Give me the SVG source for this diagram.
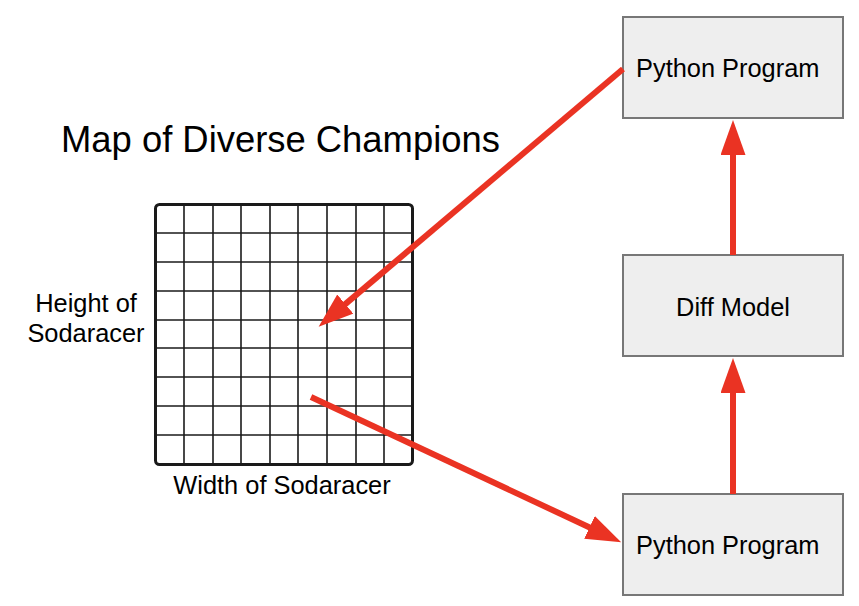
<svg xmlns="http://www.w3.org/2000/svg" width="859" height="606" viewBox="0 0 859 606">
<defs>
<style>
.box{fill:#eeeeee;stroke:#777777;stroke-width:2}
.t{font-family:"Liberation Sans",Arial,sans-serif;fill:#000;font-size:25.4px}
.conn{stroke:#ea3323;stroke-width:6;fill:none}
.grid line{stroke:#1a1a1a;stroke-width:1.6}
</style>
<marker id="ah" markerUnits="userSpaceOnUse" markerWidth="36" markerHeight="26" refX="2" refY="12.5" orient="auto">
<path d="M0,0 L35,12.5 L0,25 Z" fill="#ea3323"/>
</marker>
</defs>
<rect width="859" height="606" fill="#ffffff"/>
<g id="title"><text class="t" x="61" y="152" style="font-size:36.4px">Map of Diverse Champions</text></g>
<g id="map">
<g class="grid">
<line x1="184" y1="205" x2="184" y2="464"/>
<line x1="213" y1="205" x2="213" y2="464"/>
<line x1="241" y1="205" x2="241" y2="464"/>
<line x1="270" y1="205" x2="270" y2="464"/>
<line x1="298" y1="205" x2="298" y2="464"/>
<line x1="327" y1="205" x2="327" y2="464"/>
<line x1="356" y1="205" x2="356" y2="464"/>
<line x1="384" y1="205" x2="384" y2="464"/>
<line x1="156" y1="233" x2="412" y2="233"/>
<line x1="156" y1="262" x2="412" y2="262"/>
<line x1="156" y1="291" x2="412" y2="291"/>
<line x1="156" y1="320" x2="412" y2="320"/>
<line x1="156" y1="348" x2="412" y2="348"/>
<line x1="156" y1="377" x2="412" y2="377"/>
<line x1="156" y1="406" x2="412" y2="406"/>
<line x1="156" y1="435" x2="412" y2="435"/>
</g>
<rect x="155.5" y="204.5" width="257" height="260" rx="4" fill="none" stroke="#1a1a1a" stroke-width="3"/>
<text class="t" x="86" y="312" text-anchor="middle">Height of</text>
<text class="t" x="86" y="342" text-anchor="middle">Sodaracer</text>
<text class="t" x="282" y="494" text-anchor="middle">Width of Sodaracer</text>
</g>
<g id="python-top">
<rect class="box" x="623" y="17" width="220" height="101"/>
<text class="t" x="636" y="77">Python Program</text>
</g>
<g id="diff-model">
<rect class="box" x="623" y="255" width="220" height="101"/>
<text class="t" x="733" y="316" text-anchor="middle">Diff Model</text>
</g>
<g id="python-bottom">
<rect class="box" x="623" y="494" width="220" height="101"/>
<text class="t" x="636" y="554">Python Program</text>
</g>
<g id="connectors">
<line class="conn" x1="623" y1="69" x2="343.8" y2="305.4" marker-end="url(#ah)"/>
<line class="conn" x1="311" y1="397" x2="591.3" y2="528.2" marker-end="url(#ah)"/>
<line class="conn" x1="733" y1="255" x2="733" y2="153" marker-end="url(#ah)"/>
<line class="conn" x1="733" y1="494" x2="733" y2="391" marker-end="url(#ah)"/>
</g>
</svg>
